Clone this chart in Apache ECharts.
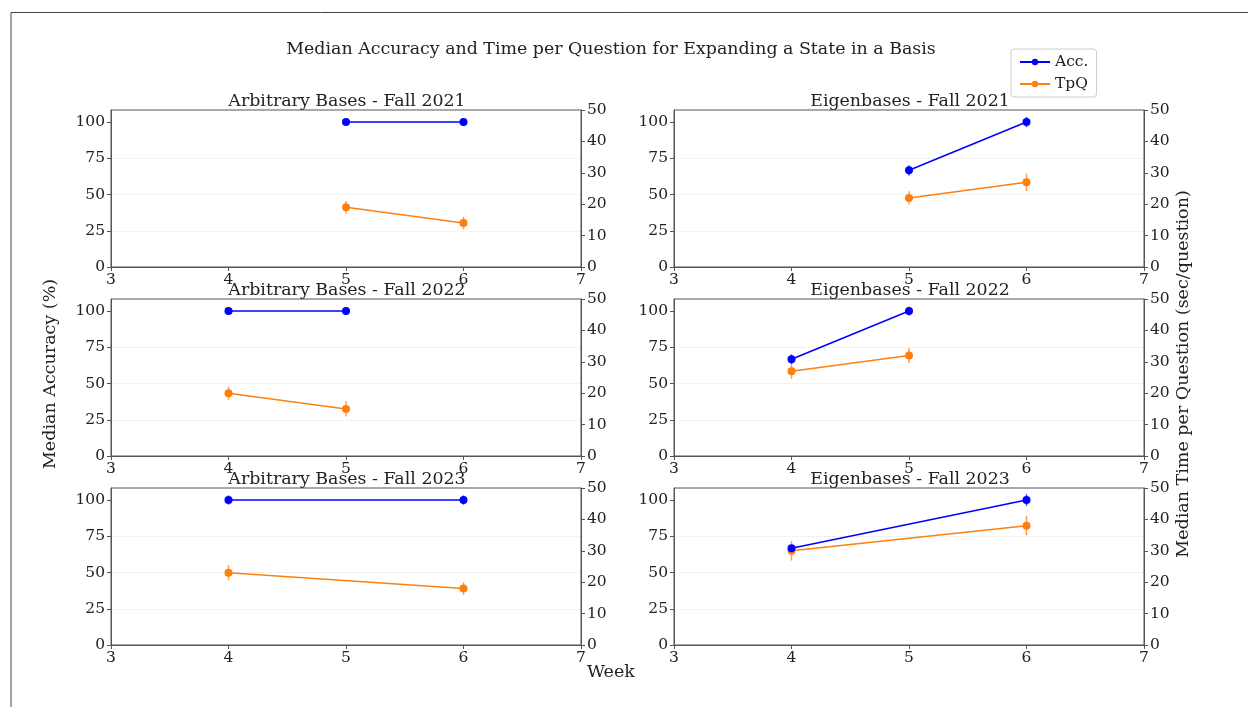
<!DOCTYPE html>
<html>
<head>
<meta charset="utf-8">
<script src="https://cdn.jsdelivr.net/npm/echarts@6/dist/echarts.min.js"></script>
<style>
  html, body { margin: 0; padding: 0; background: #fff; }
  #main { width: 1248px; height: 707px; }
</style>
</head>
<body>
<div id="main"></div>
<script>
// one entry per panel, row by row (left = arbitrary bases, right = eigenbases)
const panelTitles = [
  'Arbitrary Bases - Fall 2021', 'Eigenbases - Fall 2021',
  'Arbitrary Bases - Fall 2022', 'Eigenbases - Fall 2022',
  'Arbitrary Bases - Fall 2023', 'Eigenbases - Fall 2023'
];
const weeks = [[5, 6], [5, 6], [4, 5], [4, 5], [4, 6], [4, 6]];
const accuracy = [[100, 100], [66.7, 100], [100, 100], [66.7, 100], [100, 100], [66.7, 100]];
const accuracyErr = [[0, 0], [3.5, 3.5], [1.5, 1.5], [3.4, 3], [3.2, 3.2], [1.7, 4]];
const timePerQ = [[19, 14], [22, 27], [20, 15], [27, 32], [23, 18], [30, 38]];
const timeErr = [[2, 2], [2.1, 2.8], [2.1, 2.4], [2.4, 2.4], [2.4, 2], [3.1, 3.1]];

const weekTicks = [3, 4, 5, 6, 7];
const accTicks = [0, 25, 50, 75, 100];
const accGridLines = [25, 50, 75];

const BLUE = '#0000ff';
const ORANGE = '#ff7f0e';
const FONT = '"DejaVu Serif", serif';
const AXIS_COLOR = '#555';
const TEXT_COLOR = '#222';

const colLeft = [111, 674];
const rowTop = [110, 299, 488];
const plotW = 470, plotH = 157;

const chart = echarts.init(document.getElementById('main'));

const grids = [], xAxes = [], yAxes = [], series = [], titles = [];

titles.push({
  text: 'Median Accuracy and Time per Question for Expanding a State in a Basis',
  left: 606, top: 36, textAlign: 'center',
  textStyle: { fontFamily: FONT, fontSize: 17.4, fontWeight: 'normal', color: TEXT_COLOR }
});

function errRender(color) {
  return function (params, api) {
    const x = api.value(0), y = api.value(1), e = api.value(2);
    const p1 = api.coord([x, y - e]);
    const p2 = api.coord([x, y + e]);
    return {
      type: 'line',
      shape: { x1: p1[0], y1: p1[1], x2: p2[0], y2: p2[1] },
      style: { stroke: color, lineWidth: 1.5, opacity: 0.75 }
    };
  };
}

panelTitles.forEach(function (name, i) {
  const row = Math.floor(i / 2), col = i % 2;
  const left = colLeft[col], top = rowTop[row];

  grids.push({
    left: left, top: top, width: plotW, height: plotH,
    show: true, borderColor: AXIS_COLOR, borderWidth: 1, backgroundColor: 'transparent'
  });

  titles.push({
    text: name, left: left + plotW / 2 - 4, top: top - 22, textAlign: 'center',
    textStyle: { fontFamily: FONT, fontSize: 17.4, fontWeight: 'normal', color: TEXT_COLOR }
  });

  xAxes.push({
    gridIndex: i, type: 'value', min: 3, max: 7, interval: 1,
    axisLine: { show: true, lineStyle: { color: AXIS_COLOR } },
    axisTick: { show: true, length: 4, lineStyle: { color: AXIS_COLOR } },
    axisLabel: { fontFamily: FONT, fontSize: 15.5, color: TEXT_COLOR, margin: 5,
      customValues: weekTicks },
    splitLine: { show: false }
  });

  yAxes.push({
    gridIndex: i, type: 'value', position: 'left', min: 0, max: 108.3,
    axisLine: { show: true, lineStyle: { color: AXIS_COLOR } },
    axisTick: { show: true, length: 4, lineStyle: { color: AXIS_COLOR }, customValues: accTicks },
    axisLabel: { fontFamily: FONT, fontSize: 15.5, color: TEXT_COLOR, margin: 6,
      customValues: accTicks },
    splitLine: { show: false }
  });
  yAxes.push({
    gridIndex: i, type: 'value', position: 'right', min: 0, max: 50, interval: 10,
    axisLine: { show: true, lineStyle: { color: AXIS_COLOR } },
    axisTick: { show: true, length: 4, lineStyle: { color: AXIS_COLOR } },
    axisLabel: { fontFamily: FONT, fontSize: 15.5, color: TEXT_COLOR, margin: 6 },
    splitLine: { show: false }
  });

  const accData = weeks[i].map((w, k) => [w, accuracy[i][k], accuracyErr[i][k]]);
  const tpqData = weeks[i].map((w, k) => [w, timePerQ[i][k], timeErr[i][k]]);

  series.push({
    name: 'Acc. err', type: 'custom', xAxisIndex: i, yAxisIndex: 2 * i,
    renderItem: errRender(BLUE), data: accData, encode: { x: 0, y: 1 }, z: 1, silent: true,
    markLine: {
      silent: true, symbol: 'none', label: { show: false }, z: 0,
      lineStyle: { color: '#e4e4e4', type: 'dotted', width: 1 },
      data: accGridLines.map(v => ({ yAxis: v }))
    }
  });
  series.push({
    name: 'TpQ err', type: 'custom', xAxisIndex: i, yAxisIndex: 2 * i + 1,
    renderItem: errRender(ORANGE), data: tpqData, encode: { x: 0, y: 1 }, z: 1, silent: true
  });
  series.push({
    name: 'Acc.', type: 'line', xAxisIndex: i, yAxisIndex: 2 * i,
    data: accData.map(d => [d[0], d[1]]),
    symbol: 'circle', symbolSize: 8, color: BLUE,
    lineStyle: { width: 1.5, color: BLUE }, itemStyle: { color: BLUE }, z: 3
  });
  series.push({
    name: 'TpQ', type: 'line', xAxisIndex: i, yAxisIndex: 2 * i + 1,
    data: tpqData.map(d => [d[0], d[1]]),
    symbol: 'circle', symbolSize: 8, color: ORANGE,
    lineStyle: { width: 1.5, color: ORANGE }, itemStyle: { color: ORANGE }, z: 2
  });
});

chart.setOption({
  animation: false,
  backgroundColor: '#fff',
  title: titles,
  legend: {
    data: ['Acc.', 'TpQ'], orient: 'vertical', left: 1011, top: 49,
    itemWidth: 30, itemHeight: 8, itemGap: 6,
    padding: [5, 8, 5, 8],
    borderColor: '#ccc', borderWidth: 1, borderRadius: 3, backgroundColor: '#fff',
    textStyle: { fontFamily: FONT, fontSize: 15.5, color: TEXT_COLOR }
  },
  grid: grids,
  xAxis: xAxes,
  yAxis: yAxes,
  series: series,
  graphic: [
    { type: 'polyline', silent: true,
      shape: { points: [[11, 707], [11, 12.5], [1248, 12.5]] },
      style: { stroke: '#444', lineWidth: 1, fill: null } },
    { type: 'text', x: 50, y: 374, rotation: Math.PI / 2, silent: true,
      style: { text: 'Median Accuracy (%)', font: '17.5px ' + FONT, fill: TEXT_COLOR,
        textAlign: 'center', textVerticalAlign: 'middle' } },
    { type: 'text', x: 1183, y: 374, rotation: Math.PI / 2, silent: true,
      style: { text: 'Median Time per Question (sec/question)', font: '17.5px ' + FONT, fill: TEXT_COLOR,
        textAlign: 'center', textVerticalAlign: 'middle' } },
    { type: 'text', x: 611, y: 672, silent: true,
      style: { text: 'Week', font: '17.5px ' + FONT, fill: TEXT_COLOR,
        textAlign: 'center', textVerticalAlign: 'middle' } }
  ]
});
</script>
</body>
</html>
